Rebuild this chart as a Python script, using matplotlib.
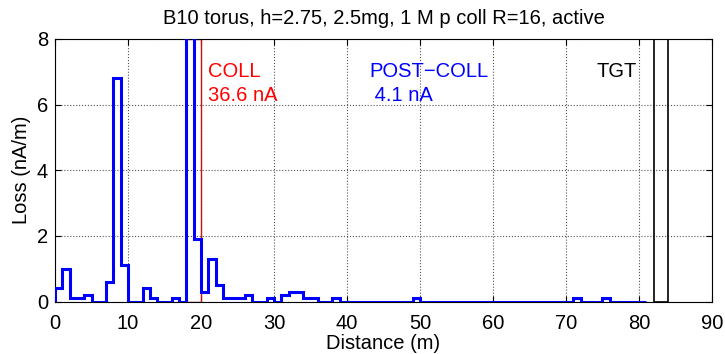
import numpy as np
import matplotlib
matplotlib.use('Agg')
from matplotlib import pyplot as plt
from matplotlib.patches import Rectangle

# loss per 1 m bin (nA/m), bins start at 0 m
loss = [0.4, 1.0, 0.1, 0.1, 0.2, 0.0, 0.0, 0.6, 6.8, 1.1,
        0.0, 0.0, 0.4, 0.1, 0.0, 0.0, 0.1, 0.0, 30.0, 1.9,
        0.3, 1.3, 0.5, 0.1, 0.1, 0.1, 0.2, 0.0, 0.0, 0.1,
        0.0, 0.2, 0.3, 0.3, 0.1, 0.1, 0.0, 0.0, 0.1, 0.0,
        0.0, 0.0, 0.0, 0.0, 0.0, 0.0, 0.0, 0.0, 0.0, 0.1,
        0.0, 0.0, 0.0, 0.0, 0.0, 0.0, 0.0, 0.0, 0.0, 0.0,
        0.0, 0.0, 0.0, 0.0, 0.0, 0.0, 0.0, 0.0, 0.0, 0.0,
        0.0, 0.1, 0.0, 0.0, 0.0, 0.1, 0.0, 0.0, 0.0, 0.0,
        0.0]
edges = np.arange(len(loss) + 1)

coll = [18, 20]
tgt = [82, 84]
coll_label = ['COLL', '36.6 nA']
post_label = ['POST\u2212COLL', ' 4.1 nA']
title = 'B10 torus, h=2.75, 2.5mg, 1 M p coll R=16, active'

plt.rcParams['font.family'] = ['Liberation Sans', 'DejaVu Sans']
fs = 14.5

fig = plt.figure(figsize=(7.25, 3.54), dpi=100)
ax = fig.add_axes([0.076, 0.148, 0.906, 0.742])

ymax = 8
ax.add_patch(Rectangle((coll[0], 0), coll[1] - coll[0], ymax, fill=False,
                       edgecolor='#cc1010', lw=1.0, zorder=2))
ax.stairs(loss, edges, baseline=0, color='blue', lw=2.2, zorder=3)
ax.add_patch(Rectangle((tgt[0], 0), tgt[1] - tgt[0], ymax, fill=False,
                       edgecolor='black', lw=1.2, zorder=4))

ax.text(21, 7.0, coll_label[0], color='red', fontsize=fs, va='center')
ax.text(21, 6.27, coll_label[1], color='red', fontsize=fs, va='center')
ax.text(43, 7.0, post_label[0], color='blue', fontsize=fs, va='center')
ax.text(43, 6.27, post_label[1], color='blue', fontsize=fs, va='center')
ax.text(79.7, 7.0, 'TGT', color='black', fontsize=fs, va='center', ha='right')

ax.set_xlim(0, 90)
ax.set_ylim(0, ymax)
ax.set_xticks(np.arange(0, 91, 10))
ax.set_yticks(np.arange(0, 9, 2))
ax.grid(True, ls=':', color='#555555', lw=0.8)
ax.tick_params(direction='in', top=True, right=True, length=4, labelsize=fs)
ax.tick_params(axis='x', pad=9)
ax.tick_params(axis='y', pad=5)
ax.set_xlabel('Distance (m)', fontsize=fs, labelpad=1)
ax.set_ylabel('Loss (nA/m)', fontsize=fs, labelpad=4)
ax.set_title(title, fontsize=fs, pad=11)

plt.savefig('out.png', dpi=100)
